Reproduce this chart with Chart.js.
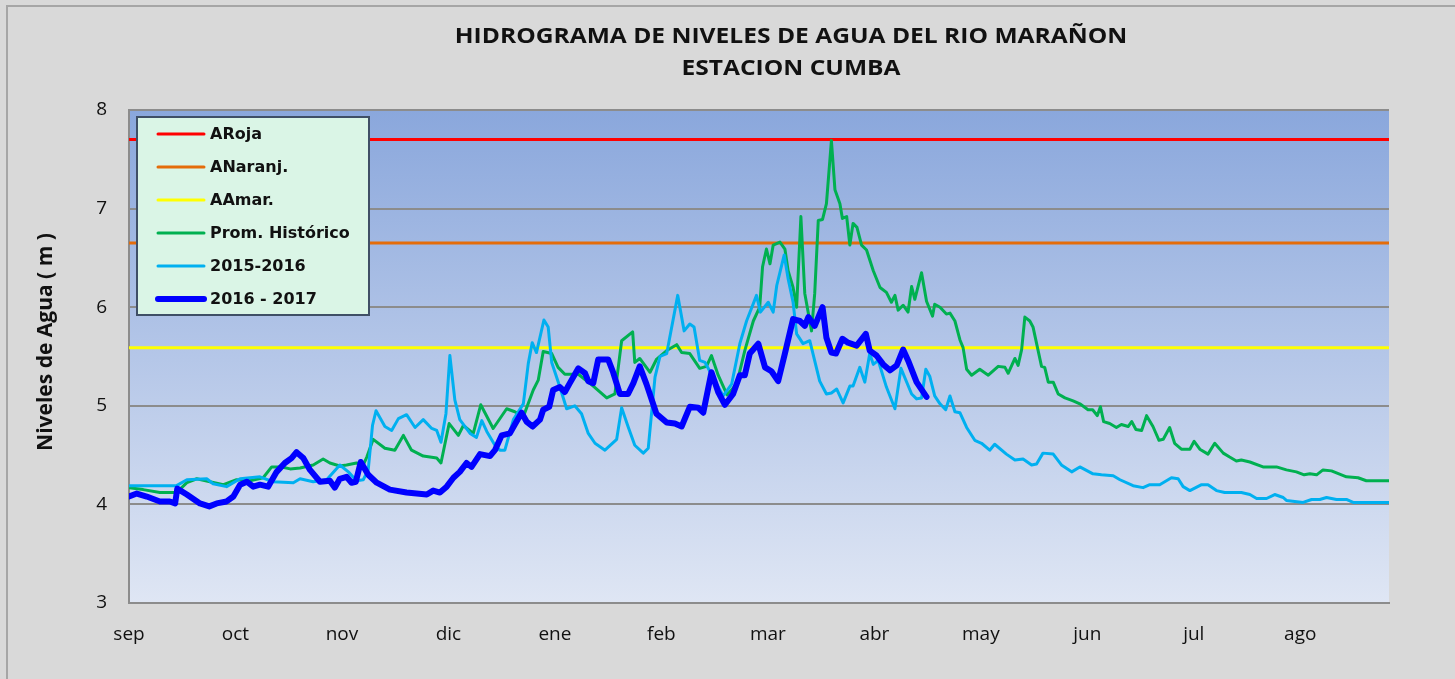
<!DOCTYPE html>
<html>
<head>
<meta charset="utf-8">
<script src="https://cdn.jsdelivr.net/npm/chart.js@4.4.1/dist/chart.umd.min.js"></script>
<style>
  html, body { margin: 0; padding: 0; background: #d9d9d9; }
  #wrap { width: 1455px; height: 679px; }
</style>
</head>
<body>
<div id="wrap"><canvas id="c" width="1455" height="679"></canvas></div>
<script>
// ---- Data (x = day index from 1 Sep, month label every 30 units) ----
const meses = ['sep','oct','nov','dic','ene','feb','mar','abr','may','jun','jul','ago'];
const pasoMes = 30;
const diaMax = 355;

const alertaRoja = 7.70;
const alertaNaranja = 6.65;
const alertaAmarilla = 5.59;

const promHistorico = [
  [0,4.17],[4,4.15],[8.7,4.12],[10.6,4.12],[13.4,4.12],[16.3,4.22],[19.1,4.26],[22.8,4.23],[26.6,4.20],[30.3,4.25],
  [34.1,4.24],[37.8,4.27],[40.2,4.38],[43,4.38],[45.4,4.36],[48.2,4.37],[51.9,4.40],[54.7,4.46],[56.6,4.42],[59.4,4.39],
  [61.3,4.40],[64.1,4.42],[66,4.40],[67,4.48],[68.8,4.66],[72.1,4.57],[74.9,4.55],[77.3,4.70],[79.6,4.55],[82.9,4.49],
  [86.7,4.47],[87.9,4.42],[90.2,4.82],[92.8,4.70],[94.2,4.80],[97,4.72],[99.1,5.01],[102.6,4.77],[106.4,4.97],[108.7,4.94],
  [111.1,4.89],[113.9,5.16],[115.3,5.26],[116.7,5.55],[119.1,5.53],[120.9,5.39],[122.8,5.32],[126.6,5.32],[130.8,5.20],[134.6,5.08],
  [136.9,5.12],[138.8,5.66],[141.9,5.75],[142.5,5.44],[143.9,5.48],[146.8,5.34],[148.6,5.47],[151.5,5.56],[154.3,5.62],[155.7,5.54],
  [158,5.53],[160.8,5.38],[162.7,5.40],[164.1,5.51],[166,5.31],[168.5,5.11],[171.2,5.22],[173.5,5.56],[175.9,5.86],[177.7,6.00],
  [178.5,6.41],[179.6,6.59],[180.6,6.44],[181.5,6.63],[183.4,6.66],[184.8,6.59],[185.7,6.37],[187.1,6.20],[188.1,6.00],[189.3,6.92],
  [190.4,6.14],[192.3,5.76],[193.2,6.14],[194.2,6.88],[195.4,6.89],[196.5,7.05],[197.9,7.69],[198.9,7.19],[200.3,7.05],[201,6.90],
  [202.2,6.92],[203.1,6.63],[204,6.85],[205.1,6.81],[206.4,6.63],[207.8,6.58],[209.7,6.37],[211.6,6.20],[213.4,6.15],[214.8,6.05],
  [215.8,6.12],[216.7,5.97],[218.1,6.02],[219.5,5.95],[220.5,6.21],[221.4,6.08],[223.3,6.35],[224.7,6.06],[226.4,5.91],[227,6.03],
  [228.5,6.00],[230.3,5.93],[231.3,5.94],[232.7,5.86],[234.1,5.67],[235,5.59],[236,5.37],[237.4,5.31],[239.7,5.37],[242.1,5.31],
  [244.9,5.40],[246.8,5.39],[247.7,5.33],[249.6,5.48],[250.5,5.41],[251.5,5.57],[252.4,5.90],[253.8,5.86],[254.7,5.80],[257.1,5.40],
  [258,5.39],[259,5.24],[260.4,5.24],[261.8,5.12],[263.7,5.08],[266,5.05],[267.9,5.02],[270.2,4.96],[271.5,4.96],[272.8,4.90],
  [273.7,4.99],[274.6,4.84],[276.3,4.82],[278.2,4.78],[279.6,4.81],[281.5,4.79],[282.5,4.84],[283.7,4.76],[285.3,4.75],[286.7,4.90],
  [288.5,4.79],[290.2,4.65],[291.4,4.66],[293.2,4.78],[294.6,4.62],[296.5,4.56],[298.9,4.56],[300.1,4.64],[301.7,4.56],[304,4.51],
  [305.9,4.62],[308.3,4.52],[310.1,4.48],[312,4.44],[313.4,4.45],[315.8,4.43],[319.5,4.38],[323.3,4.38],[326.1,4.35],[328.9,4.33],
  [331.1,4.30],[332.7,4.31],[334.6,4.30],[336.4,4.35],[338.8,4.34],[340.2,4.32],[343,4.28],[346.3,4.27],[348.6,4.24],[355,4.24]
];

const serie2015_2016 = [
  [0,4.19],[13.4,4.19],[16.3,4.25],[21.9,4.26],[23.7,4.21],[27.5,4.18],[31.3,4.26],[36.9,4.28],[40.6,4.23],[46.3,4.22],
  [48.2,4.26],[51.9,4.23],[55.7,4.25],[59.4,4.40],[61.8,4.33],[64.1,4.24],[66,4.25],[67.4,4.35],[68.6,4.80],[69.6,4.95],
  [72.1,4.79],[74,4.75],[75.9,4.87],[78.2,4.91],[80.6,4.78],[82.9,4.86],[85.3,4.77],[86.7,4.75],[87.9,4.63],[89.3,4.92],
  [90.4,5.51],[91.8,5.06],[93.2,4.86],[96.1,4.72],[97.9,4.68],[99.4,4.85],[100.8,4.74],[103.1,4.60],[104.5,4.55],[105.9,4.55],
  [108.3,4.86],[111.1,5.02],[112.5,5.43],[113.6,5.64],[114.8,5.54],[116.9,5.87],[118.1,5.80],[119.1,5.44],[121.4,5.19],[123.3,4.97],
  [125.6,5.00],[127.5,4.92],[129.4,4.72],[131.3,4.62],[134.1,4.55],[137.4,4.66],[138.8,4.98],[140.6,4.79],[142.5,4.60],[144.9,4.52],
  [146.3,4.57],[148.2,5.29],[149.6,5.50],[151.5,5.53],[154.6,6.12],[156.4,5.76],[158,5.83],[159.2,5.80],[160.8,5.46],[162.3,5.44],
  [164.1,5.32],[167.4,5.10],[169.8,5.22],[172.1,5.63],[174,5.86],[176.8,6.12],[177.9,5.95],[180.1,6.05],[181.5,5.95],[182.5,6.22],
  [184.6,6.53],[185.7,6.29],[187.1,6.05],[188.1,5.73],[189.9,5.63],[191.8,5.66],[194.6,5.25],[196.5,5.12],[197.9,5.13],[199.4,5.17],
  [201.2,5.03],[203.1,5.20],[204,5.20],[205.9,5.39],[207.3,5.24],[208.7,5.53],[209.7,5.42],[211.1,5.46],[213.4,5.19],[215.8,4.97],
  [217.5,5.38],[220.5,5.12],[221.9,5.07],[223.3,5.08],[224.5,5.37],[225.6,5.30],[227,5.10],[228.5,5.02],[230.1,4.96],[231.3,5.10],
  [232.7,4.94],[234.1,4.93],[236,4.78],[238.3,4.65],[240.2,4.62],[242.5,4.55],[243.9,4.61],[247.2,4.51],[249.6,4.45],[251.9,4.46],
  [254.3,4.40],[255.7,4.41],[257.5,4.52],[260.4,4.51],[262.7,4.40],[265.6,4.33],[267.9,4.38],[271.6,4.31],[274,4.30],[277.3,4.29],
  [279.2,4.25],[282.9,4.19],[285.7,4.17],[287.6,4.20],[290.4,4.20],[293.7,4.27],[295.6,4.26],[297,4.18],[298.9,4.14],[302.2,4.20],
  [304,4.20],[306.4,4.14],[308.7,4.12],[313.4,4.12],[315.8,4.10],[317.7,4.06],[320.5,4.06],[322.8,4.10],[325.2,4.07],[326.1,4.04],
  [330.8,4.02],[333.2,4.05],[335.5,4.05],[337.4,4.07],[340.2,4.05],[343,4.05],[344.9,4.02],[355,4.02]
];

const serie2016_2017 = [
  [0,4.08],[2.2,4.11],[5,4.08],[8.7,4.03],[11.5,4.03],[13,4.01],[13.6,4.16],[16.3,4.10],[20,4.01],[22.6,3.98],
  [24.7,4.01],[27.5,4.03],[29.4,4.08],[31.3,4.20],[33.2,4.23],[35,4.18],[36.9,4.20],[39.2,4.18],[41.6,4.33],[43.9,4.42],
  [45.8,4.47],[47.2,4.53],[49.1,4.47],[51,4.35],[53.8,4.23],[56.6,4.24],[58,4.17],[59.4,4.26],[61.3,4.28],[62.7,4.22],
  [63.9,4.23],[65.3,4.43],[67.4,4.30],[69.8,4.22],[73.5,4.15],[78.2,4.12],[83.9,4.10],[85.7,4.14],[87.6,4.12],[89.5,4.18],
  [91.4,4.27],[93.2,4.33],[95.1,4.42],[96.5,4.38],[98.9,4.51],[101.7,4.49],[103.1,4.55],[105,4.70],[107.3,4.72],[108.7,4.81],
  [110.6,4.93],[112,4.84],[113.7,4.79],[115.8,4.86],[116.7,4.96],[118.4,4.99],[119.5,5.16],[121.4,5.19],[122.8,5.14],[124.2,5.23],
  [126.6,5.38],[128.5,5.33],[129.4,5.25],[130.8,5.23],[132.2,5.47],[135,5.47],[136.4,5.34],[138.3,5.12],[140.6,5.12],[142.1,5.23],
  [143.9,5.40],[145.8,5.22],[148.6,4.92],[151.5,4.83],[153.8,4.82],[155.7,4.79],[158,4.99],[160.4,4.98],[161.8,4.93],[164.1,5.34],
  [166,5.14],[167.9,5.01],[170.2,5.12],[172.1,5.31],[173.5,5.31],[174.9,5.53],[177.3,5.63],[179.2,5.39],[181,5.35],[182.9,5.25],
  [184.8,5.53],[187.1,5.88],[189,5.86],[190.4,5.81],[191.4,5.90],[193.2,5.81],[195.4,6.00],[196.5,5.69],[197.9,5.54],[199.2,5.53],
  [201,5.68],[202.6,5.64],[205,5.61],[207.6,5.73],[208.7,5.56],[210.6,5.51],[212.5,5.42],[214.4,5.36],[216.3,5.41],[218.1,5.57],
  [219.5,5.46],[221.9,5.24],[224.7,5.09]
];

// ---- Build datasets ----
const toPts = arr => arr.map(p => ({x: p[0], y: p[1]}));
const flat = v => [{x: 0, y: v}, {x: diaMax, y: v}];

const datasets = [
  {label: 'ARoja', data: flat(alertaRoja), borderColor: '#ff0000', borderWidth: 3, order: 5},
  {label: 'ANaranj.', data: flat(alertaNaranja), borderColor: '#e46c0a', borderWidth: 3, order: 4},
  {label: 'AAmar.', data: flat(alertaAmarilla), borderColor: '#ffff00', borderWidth: 3, order: 3},
  {label: 'Prom. Histórico', data: toPts(promHistorico), borderColor: '#00b050', borderWidth: 3, order: 2},
  {label: '2015-2016', data: toPts(serie2015_2016), borderColor: '#00b0f0', borderWidth: 3, order: 1},
  {label: '2016 - 2017', data: toPts(serie2016_2017), borderColor: '#0000ff', borderWidth: 6, order: 0}
];
datasets.forEach(d => {
  d.pointRadius = 0; d.tension = 0; d.fill = false;
  d.borderJoinStyle = 'round'; d.borderCapStyle = 'round';
});

// ---- Plugins ----
const fondo = {
  id: 'fondo',
  beforeDraw(chart) {
    const {ctx, chartArea: a, width, height} = chart;
    ctx.save();
    ctx.fillStyle = '#d9d9d9';
    ctx.fillRect(0, 0, width, height);
    ctx.strokeStyle = '#a6a6a6';
    ctx.lineWidth = 2;
    ctx.strokeRect(7, 6, width + 10, height + 10);
    const g = ctx.createLinearGradient(0, a.top, 0, a.bottom);
    g.addColorStop(0, '#8aa7dc');
    g.addColorStop(1, '#dfe6f4');
    ctx.fillStyle = g;
    ctx.fillRect(a.left, a.top, a.right - a.left, a.bottom - a.top);
    ctx.restore();
  }
};

function textoAncho(ctx, txt, cx, y, sx) {
  ctx.save();
  ctx.translate(cx, y);
  ctx.scale(sx, 1);
  ctx.fillText(txt, 0, 0);
  ctx.restore();
}

const textos = {
  id: 'textos',
  afterDraw(chart) {
    const {ctx} = chart;
    ctx.save();
    ctx.fillStyle = '#111';
    ctx.textAlign = 'center';
    ctx.textBaseline = 'alphabetic';
    ctx.font = 'bold 21px "Open Sans"';
    textoAncho(ctx, 'HIDROGRAMA DE NIVELES DE AGUA DEL RIO MARAÑON', 791, 43, 1.17);
    textoAncho(ctx, 'ESTACION CUMBA', 791, 75, 1.17);
    // y-axis title
    ctx.translate(46, 342);
    ctx.rotate(-Math.PI / 2);
    ctx.textBaseline = 'middle';
    ctx.font = 'bold 21px "Open Sans"';
    ctx.fillText('Niveles de Agua ( m )', 0, 0);
    ctx.restore();

    // legend
    ctx.save();
    const bx = 137, by = 117, bw = 232, bh = 198;
    ctx.fillStyle = '#daf5e6';
    ctx.fillRect(bx, by, bw, bh);
    ctx.strokeStyle = '#3f4f66';
    ctx.lineWidth = 2;
    ctx.strokeRect(bx, by, bw, bh);
    ctx.font = 'bold 16px "DejaVu Sans"';
    ctx.textBaseline = 'middle';
    ctx.textAlign = 'left';
    chart.data.datasets.forEach((d, i) => {
      const y = 134 + i * 33;
      ctx.strokeStyle = d.borderColor;
      ctx.lineWidth = d.borderWidth;
      ctx.lineCap = 'round';
      ctx.beginPath();
      ctx.moveTo(158, y);
      ctx.lineTo(204, y);
      ctx.stroke();
      ctx.fillStyle = '#111';
      ctx.fillText(d.label, 210, y + 1);
    });
    ctx.restore();
  }
};

new Chart(document.getElementById('c'), {
  type: 'line',
  data: {datasets},
  options: {
    responsive: false,
    animation: false,
    devicePixelRatio: 1,
    layout: {padding: {left: 0, right: 66, top: 110, bottom: 0}},
    plugins: {legend: {display: false}, title: {display: false}, tooltip: {enabled: false}},
    scales: {
      x: {
        type: 'linear', min: 0, max: diaMax,
        afterFit: s => { s.height = 76; },
        afterBuildTicks: s => { s.ticks = meses.map((m, i) => ({value: i * pasoMes})); },
        ticks: {
          autoSkip: false, maxRotation: 0, padding: 20, color: '#111',
          font: {family: 'Open Sans', size: 19},
          callback: v => meses[Math.round(v / pasoMes)]
        },
        grid: {display: false, drawTicks: false},
        border: {display: true, color: '#8c8c8c', width: 2}
      },
      y: {
        min: 3, max: 8,
        afterFit: s => { s.width = 129; },
        ticks: {stepSize: 1, padding: 22, color: '#111', font: {family: 'Open Sans', size: 19}},
        grid: {color: '#8c8c8c', lineWidth: 2, drawTicks: false},
        border: {display: true, color: '#8c8c8c', width: 2}
      }
    }
  },
  plugins: [fondo, textos]
});
</script>
</body>
</html>
